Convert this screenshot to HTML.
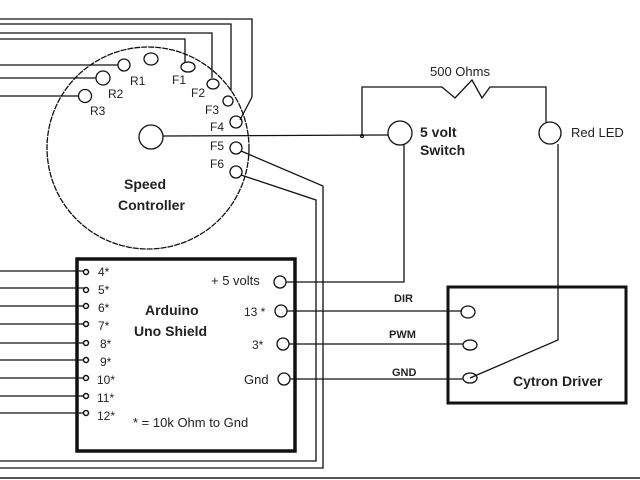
<!DOCTYPE html>
<html><head><meta charset="utf-8"><style>
html,body{margin:0;padding:0;background:#fff}
svg{display:block}
text{font-family:"Liberation Sans",sans-serif;fill:#222}
.b{font-weight:bold}
</style></head><body>
<svg width="640" height="480" viewBox="0 0 640 480" xmlns="http://www.w3.org/2000/svg">
<g fill="none" stroke="#111" stroke-width="1.3">
<!-- top wires -->
<polyline points="0,19 252,19 252,97 240,120"/>
<polyline points="0,24 231,24 231,91"/>
<polyline points="0,33 212,33 212,78"/>
<polyline points="0,39 185,39 185,62"/>
<line x1="0" y1="65" x2="118" y2="65"/>
<line x1="0" y1="78" x2="96" y2="78"/>
<line x1="0" y1="96" x2="79" y2="96"/>
<!-- speed controller -->
<circle cx="148" cy="148" r="101" stroke-dasharray="6,1"/>
<ellipse cx="151" cy="59" rx="7" ry="6"/>
<circle cx="124" cy="65" r="6"/>
<circle cx="103" cy="78" r="7"/>
<circle cx="85" cy="96" r="6.5"/>
<ellipse cx="188" cy="67" rx="7" ry="5"/>
<ellipse cx="213" cy="84" rx="6" ry="5"/>
<circle cx="228" cy="101" r="5"/>
<circle cx="236" cy="122" r="6"/>
<circle cx="236" cy="148" r="6"/>
<circle cx="236" cy="172" r="6"/>
<circle cx="151" cy="137" r="12"/>
<line x1="163" y1="136" x2="388" y2="135"/>
<polyline points="241,151 323,186 323,468 0,468"/>
<polyline points="241,175 316,200 316,461 0,461"/>
<!-- arduino -->
<rect x="77" y="259" width="218" height="192" stroke-width="3.5"/>
<g stroke-width="1.2">
<line x1="0" y1="271" x2="84" y2="271"/><line x1="0" y1="288" x2="84" y2="288"/>
<line x1="0" y1="306" x2="84" y2="306"/><line x1="0" y1="324" x2="84" y2="324"/>
<line x1="0" y1="343" x2="84" y2="343"/><line x1="0" y1="360" x2="84" y2="360"/>
<line x1="0" y1="378" x2="84" y2="378"/><line x1="0" y1="396" x2="84" y2="396"/>
<line x1="0" y1="413" x2="84" y2="413"/>
</g>
<g stroke-width="1.5">
<circle cx="86" cy="272" r="2.5"/><circle cx="86" cy="290" r="2.5"/><circle cx="86" cy="306" r="2.5"/>
<circle cx="86" cy="324" r="2.5"/><circle cx="86" cy="343" r="2.5"/><circle cx="86" cy="360" r="2.5"/>
<circle cx="86" cy="378" r="2.5"/><circle cx="86" cy="396" r="2.5"/><circle cx="86" cy="413" r="2.5"/>
</g>
<circle cx="280" cy="282" r="6"/>
<circle cx="281" cy="311" r="6"/>
<circle cx="283" cy="344" r="6"/>
<circle cx="284" cy="379" r="6"/>
<polyline points="286,282 404,282 404,145"/>
<line x1="287" y1="311" x2="462" y2="311"/>
<line x1="289" y1="344" x2="463" y2="344"/>
<line x1="290" y1="379" x2="463" y2="379"/>
<!-- switch / resistor / led -->
<circle cx="400" cy="133" r="12"/>
<circle cx="362" cy="136" r="1.5"/>
<polyline points="362,136 362,87 442,87 455,98 472,80 482,98 490,87 546,87 546,122"/>
<circle cx="550" cy="133" r="11"/>
<polyline points="558,144 558,340 470,378"/>
<!-- cytron -->
<rect x="448" y="287" width="178" height="116" stroke-width="3"/>
<ellipse cx="468" cy="312" rx="7" ry="6"/>
<ellipse cx="470" cy="345" rx="7" ry="5"/>
<ellipse cx="470" cy="378" rx="7" ry="5"/>
</g>
<line x1="0" y1="478" x2="640" y2="478" stroke="#555" stroke-width="2"/>
<g font-size="12">
<text x="130" y="85">R1</text><text x="108" y="98">R2</text><text x="90" y="115">R3</text>
<text x="172" y="84">F1</text><text x="191" y="97">F2</text><text x="205" y="114">F3</text>
<text x="210" y="131">F4</text><text x="210" y="150">F5</text><text x="210" y="168">F6</text>
<text x="98" y="276">4*</text><text x="98" y="294">5*</text><text x="98" y="312">6*</text>
<text x="98" y="330">7*</text><text x="100" y="348">8*</text><text x="100" y="366">9*</text>
<text x="97" y="384">10*</text><text x="97" y="402">11*</text><text x="97" y="420">12*</text>
<text x="244" y="316">13 *</text><text x="252" y="349">3*</text>
</g>
<g font-size="13">
<text x="211" y="285">+ 5 volts</text>
<text x="244" y="384">Gnd</text>
<text x="133" y="427">* = 10k Ohm to Gnd</text>
<text x="430" y="76">500 Ohms</text>
<text x="571" y="137">Red LED</text>
</g>
<g font-size="14" class="b">
<text x="124" y="189" class="b">Speed</text>
<text x="118" y="210" class="b">Controller</text>
<text x="145" y="315" class="b">Arduino</text>
<text x="134" y="336" class="b">Uno Shield</text>
<text x="420" y="137" class="b">5 volt</text>
<text x="420" y="155" class="b">Switch</text>
<text x="513" y="386" class="b">Cytron Driver</text>
</g>
<g font-size="11" class="b">
<text x="394" y="302" class="b">DIR</text>
<text x="389" y="338" class="b">PWM</text>
<text x="392" y="376" class="b">GND</text>
</g>
</svg>
</body></html>
